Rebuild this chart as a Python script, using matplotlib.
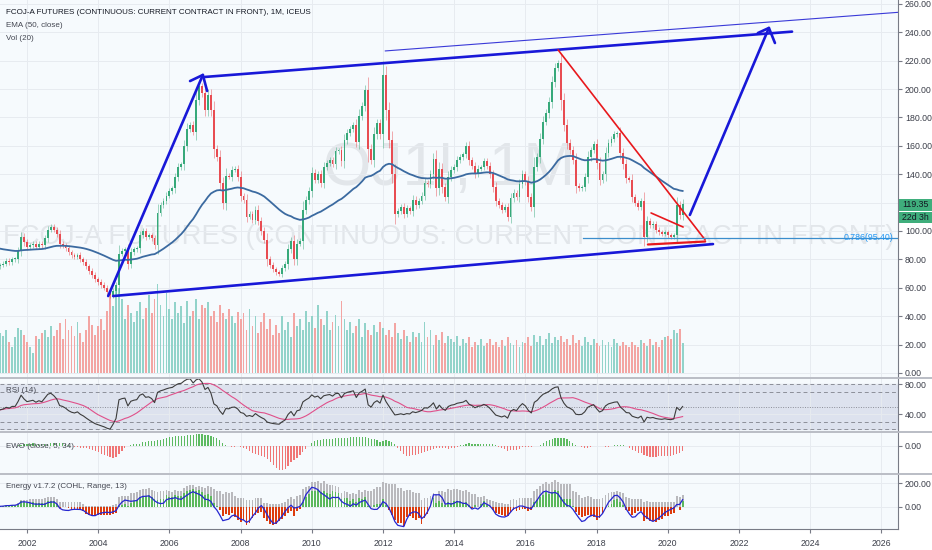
import numpy as np
import pandas as pd
import matplotlib
matplotlib.use('Agg')
import matplotlib.pyplot as plt
from matplotlib import font_manager
from matplotlib.patches import Rectangle

# pick a narrow face if it is there, the TradingView text is condensed
_names = {f.name for f in font_manager.fontManager.ttflist}
FONT = 'Liberation Sans Narrow' if 'Liberation Sans Narrow' in _names else 'Liberation Sans'
plt.rcParams['font.family'] = [FONT, 'DejaVu Sans']

# ---- data: monthly closes, Apr 2001 .. Jun 2020 ----
first_open = 75
c2001 = [76, 77, 79, 78, 80, 80, 86, 96, 92]
c2002 = [89, 90, 91, 89, 91, 90, 95, 101, 103, 101, 98, 91]
c2003 = [90, 88, 85, 83, 82, 83, 80, 78, 75, 72, 69, 66]
c2004 = [64, 62, 60, 57, 55, 58, 62, 84, 86, 87, 77, 85]
c2005 = [87, 88, 97, 100, 96, 97, 95, 90, 113, 118, 121, 125]
c2006 = [128, 130, 138, 145, 147, 160, 172, 175, 170, 192, 202, 197]
c2007 = [185, 196, 185, 158, 152, 134, 120, 139, 138, 143, 144, 138]
c2008 = [125, 122, 110, 112, 108, 115, 107, 100, 94, 80, 76, 73]
c2009 = [71, 70, 74, 77, 87, 93, 80, 91, 93, 115, 122, 128]
c2010 = [141, 136, 140, 134, 145, 148, 150, 147, 156, 157, 149, 164]
c2011 = [169, 172, 175, 163, 181, 188, 199, 158, 150, 168, 176, 168]
c2012 = [210, 185, 164, 140, 112, 114, 117, 112, 116, 114, 122, 118]
c2013 = [121, 125, 134, 133, 140, 151, 130, 144, 131, 124, 138, 143]
c2014 = [145, 150, 152, 154, 160, 150, 146, 140, 144, 145, 149, 146]
c2015 = [140, 131, 121, 118, 115, 117, 110, 123, 127, 124, 133, 140]
c2016 = [135, 124, 117, 145, 152, 165, 177, 183, 191, 205, 215, 218]
c2017 = [192, 175, 162, 157, 150, 132, 130, 131, 138, 152, 157, 161]
c2018 = [148, 136, 140, 155, 162, 165, 168, 169, 155, 147, 137, 136]
c2019 = [124, 120, 117, 121, 96, 107, 104, 105, 101, 99, 98, 99]
c2020 = [97, 96, 97, 118, 111, 119.35]

# volume (relative, drawn on the price scale like the overlay)
v2001 = [28, 26, 30, 22, 18, 25, 32, 30, 27]
v2002 = [22, 18, 14, 26, 24, 28, 30, 25, 33, 26, 30, 35]
v2003 = [24, 38, 30, 33, 26, 36, 28, 22, 30, 40, 34, 27]
v2004 = [33, 38, 30, 44, 55, 47, 58, 60, 52, 38, 48, 42]
v2005 = [36, 44, 50, 38, 46, 55, 42, 52, 63, 48, 40, 56]
v2006 = [45, 38, 50, 42, 47, 35, 51, 40, 44, 52, 38, 48]
v2007 = [46, 50, 40, 44, 36, 48, 42, 38, 45, 40, 35, 43]
v2008 = [38, 42, 30, 45, 33, 40, 28, 36, 42, 31, 38, 27]
v2009 = [34, 28, 40, 30, 36, 25, 42, 33, 38, 30, 44, 36]
v2010 = [40, 32, 48, 38, 34, 44, 30, 36, 41, 33, 51, 38]
v2011 = [30, 36, 28, 33, 38, 25, 35, 30, 27, 34, 29, 36]
v2012 = [32, 27, 30, 25, 35, 28, 24, 30, 26, 22, 29, 25]
v2013 = [28, 22, 36, 25, 30, 20, 27, 23, 29, 21, 26, 24]
v2014 = [22, 26, 19, 24, 21, 25, 18, 22, 20, 24, 19, 21]
v2015 = [24, 20, 22, 18, 23, 19, 25, 21, 20, 23, 18, 22]
v2016 = [21, 25, 19, 27, 22, 26, 20, 24, 28, 21, 25, 23]
v2017 = [26, 22, 24, 20, 27, 21, 23, 19, 25, 22, 20, 24]
v2018 = [21, 19, 23, 20, 22, 18, 24, 21, 19, 22, 20, 18]
v2019 = [22, 20, 18, 23, 21, 19, 24, 20, 22, 18, 23, 25]
v2020 = [26, 24, 30, 28, 31, 21]

closes = np.array(c2001 + c2002 + c2003 + c2004 + c2005 + c2006 + c2007 + c2008 + c2009 + c2010
                  + c2011 + c2012 + c2013 + c2014 + c2015 + c2016 + c2017 + c2018 + c2019 + c2020, float)
volume = np.array(v2001 + v2002 + v2003 + v2004 + v2005 + v2006 + v2007 + v2008 + v2009 + v2010
                  + v2011 + v2012 + v2013 + v2014 + v2015 + v2016 + v2017 + v2018 + v2019 + v2020, float)
start_year, start_month = 2001, 4
ema_seed = 88  # EMA value carried in from the history before the window

# hand drawn lines (date, price)
arrow_up1 = [(2004.28, 54.2), (2006.94, 209.9)]
arrow_up1_head = [(2006.58, 205.6), (2006.94, 209.9), (2007.06, 198.6)]
channel_top = [(2007.0, 208.5), (2023.49, 240.4)]
channel_top_thin = [(2012.06, 226.8), (2026.47, 254.0)]
channel_bottom = [(2004.42, 54.2), (2021.27, 90.8)]
red_down = [(2016.92, 227.5), (2021.05, 93.7)]
red_wedge = [(2019.53, 112.7), (2020.43, 102.8)]
red_base = [(2019.44, 90.5), (2021.05, 92.6)]
arrow_up2 = [(2020.62, 111.3), (2022.84, 243.0)]
arrow_up2_head = [(2022.53, 239.4), (2022.84, 243.0), (2023.01, 232.4)]
fib_level = 95.40
fib_start = 2017.62

n = len(closes)
t = np.array([start_year + (start_month - 1 + i) / 12 for i in range(n)])
opens = np.concatenate([[first_open], closes[:-1]])
body = np.abs(closes - opens)
highs = np.maximum(opens, closes) + 1.5 + 0.2 * body
lows = np.minimum(opens, closes) - 1.5 - 0.2 * body
up = closes >= opens

# indicators
ema = []
e = ema_seed
for c in closes:
    e = e + 2 / 51 * (c - e)
    ema.append(e)
ema = np.array(ema)

chg = closes - opens
ag, al = 1.8, 2.2
rsi = []
for d in chg:
    ag = (ag * 13 + max(d, 0)) / 14
    al = (al * 13 + max(-d, 0)) / 14
    rsi.append(100 - 100 / (1 + ag / al))
rsi = pd.Series(rsi)
rsi_ma = rsi.rolling(14, min_periods=1).mean()

cs = pd.Series(closes)
sma5 = cs.rolling(5, min_periods=1).mean()
sma34 = cs.rolling(34, min_periods=1).mean()
ewo = ((sma5 - sma34) / sma5 * 100).values

# energy: up / down moves over 13 bars, damped by price level
root = np.sqrt(closes)
ups = pd.Series(np.maximum(chg, 0) / root).rolling(13, min_periods=1).sum()
dns = pd.Series(np.maximum(-chg, 0) / root).rolling(13, min_periods=1).sum()
k = 225 / ups.max()
grey = (ups * k).values
net = (ups - dns) * k * 0.85
blue = (net + (net - net.shift(4).fillna(0))).ewm(span=3, adjust=False).mean()
blue = (blue * 170 / abs(blue.min())).values
net = net.values

# ---- layout (pixel based) ----
W, H = 932, 550
fig = plt.figure(figsize=(W / 100, H / 100), dpi=100, facecolor='white')
renderer = fig.canvas.get_renderer()

def px_axes(top, bottom, right=898):
    return fig.add_axes([0, 1 - bottom / H, right / W, (bottom - top) / H])

ax = px_axes(0, 377)
ax_rsi = px_axes(379, 431)
ax_ewo = px_axes(433, 473)
ax_en = px_axes(475, 529)

BG = '#f6fafd'
GRID = '#e7ebf0'
AXC = '#787b86'
TXT = '#3c3f4a'
UPC = '#37a97a'
DNC = '#e84c52'
BLUE = '#1818d8'
RED = '#e8181c'

def fit_size(s, width_px):
    tt = fig.text(0, 0, s, fontsize=10)
    w = tt.get_window_extent(renderer).width
    tt.remove()
    return 10 * width_px / w

TICK_FS = fit_size('260.00', 27)
LEG_FS = fit_size('FCOJ-A FUTURES (CONTINUOUS: CURRENT CONTRACT IN FRONT), 1M, ICEUS', 305)

x_lo = 2002 - 27 / 35.6
x_hi = 2002 + (898 - 27) / 35.6
years = list(range(2002, 2027, 2))

for a in (ax, ax_rsi, ax_ewo, ax_en):
    a.set_facecolor(BG)
    a.set_xlim(x_lo, x_hi)
    a.set_xticks(years)
    a.grid(True, color=GRID, lw=0.7)
    a.set_axisbelow(True)
    a.yaxis.tick_right()
    a.tick_params(axis='y', length=3, color=AXC, labelcolor=TXT, labelsize=TICK_FS, pad=2)
    a.tick_params(axis='x', length=0, labelbottom=False)
    for s in ['top', 'left', 'bottom']:
        a.spines[s].set_visible(False)
    a.spines['right'].set_color(AXC)
    a.spines['right'].set_linewidth(0.8)

# ---- main price panel ----
ax.set_ylim(-2.82, 262.68)
ax.set_yticks(range(0, 261, 20))
# the 120 label sits under the last price tag
ax.set_yticklabels(['' if v == 120 else f'{v:.2f}' for v in range(0, 261, 20)])

# watermark
wm1_fs = fit_size('OJ1!, 1M', 250)
wm2_fs = fit_size('FCOJ-A FUTURES (CONTINUOUS: CURRENT CONTRACT IN FRONT)', 895)
ax.text(0.5, 1 - 170 / 377, 'OJ1!, 1M', transform=ax.transAxes, ha='center', va='center',
        fontsize=wm1_fs, color='#e2e6ea', zorder=0.5)
ax.text(0.5, 1 - 237 / 377, 'FCOJ-A FUTURES (CONTINUOUS: CURRENT CONTRACT IN FRONT)', transform=ax.transAxes,
        ha='center', va='center', fontsize=wm2_fs, color='#e2e6ea', zorder=0.5)

w = 0.62 / 12
vol_col = np.where(up, '#92d3ca', '#f3a5a3')
ax.bar(t, volume, width=w, color=vol_col, zorder=1)
ax.vlines(t, lows, highs, colors=np.where(up, UPC, DNC), lw=0.6, alpha=0.55, zorder=2)
ax.bar(t, np.maximum(body, 0.7), bottom=np.minimum(opens, closes), width=w,
       color=np.where(up, UPC, DNC), zorder=3)
ax.plot(t, ema, color='#3b6aa0', lw=1.3, zorder=4)

def seg(pts, **kw):
    xs, ys = zip(*pts)
    ax.plot(xs, ys, solid_capstyle='round', zorder=5, **kw)

seg(arrow_up1, color=BLUE, lw=1.9)
seg(arrow_up1_head, color=BLUE, lw=1.9)
seg(channel_top, color=BLUE, lw=1.9)
seg(channel_top_thin, color='#3a3ad8', lw=0.8)
seg(channel_bottom, color=BLUE, lw=1.9)
seg(arrow_up2, color=BLUE, lw=1.9)
seg(arrow_up2_head, color=BLUE, lw=1.9)
seg(red_down, color=RED, lw=1.2)
seg(red_wedge, color=RED, lw=1.2)
seg(red_base, color=RED, lw=1.6)
ax.plot([fib_start, x_hi], [fib_level, fib_level], color='#3b8dcc', lw=0.9, zorder=5)
ax.text(x_hi - 5 / 35.6, fib_level, f'0.786({fib_level:.2f})', ha='right', va='center',
        fontsize=TICK_FS, color='#2196f3', zorder=6)

# last price tags on the axis
for y0, y1, s in [(198.5, 210.5, f'{closes[-1]:.2f}'), (211.5, 222.5, '22d 3h')]:
    fig.patches.append(Rectangle((899 / W, 1 - y1 / H), 33 / W, (y1 - y0) / H,
                                 transform=fig.transFigure, facecolor='#3fae7c', edgecolor='none'))
    fig.text(902 / W, 1 - (y0 + y1) / 2 / H, s, ha='left', va='center', fontsize=TICK_FS, color='#131722')

# legend lines
fig.text(6 / W, 1 - 13 / H, 'FCOJ-A FUTURES (CONTINUOUS: CURRENT CONTRACT IN FRONT), 1M, ICEUS',
         fontsize=LEG_FS, color='#131722', va='center')
fig.text(6 / W, 1 - 25.5 / H, 'EMA (50, close)', fontsize=LEG_FS, color='#434651', va='center')
fig.text(6 / W, 1 - 38 / H, 'Vol (20)', fontsize=LEG_FS, color='#434651', va='center')

# ---- RSI ----
ax_rsi.set_ylim(17.73, 87.07)
ax_rsi.set_yticks([40, 80])
ax_rsi.set_yticklabels(['40.00', '80.00'])
ax_rsi.axhspan(20, 80, color='#dde2ee', zorder=0.5)
for lv in (80, 70, 30, 20):
    ax_rsi.axhline(lv, color='#8c8f99', lw=0.7, ls=(0, (4, 3)), zorder=1)
ax_rsi.axhline(50, color='#8c8f99', lw=0.7, ls=(0, (1, 1.5)), zorder=1)
ax_rsi.plot(t, rsi_ma, color='#e0508a', lw=0.8, zorder=2)
ax_rsi.plot(t, rsi, color='#3c3c3c', lw=0.8, zorder=3)
fig.text(6 / W, 1 - 390 / H, 'RSI (14)', fontsize=LEG_FS, color='#434651', va='center')

# ---- EWO ----
sc = -ewo.min() / 24.3
ax_ewo.set_ylim(-27.3 * sc, 12.7 * sc)
ax_ewo.set_yticks([0])
ax_ewo.set_yticklabels(['0.00'])
ax_ewo.bar(t, ewo, width=0.4 / 12, color=np.where(ewo >= 0, '#5dba61', '#f07575'), zorder=2)
fig.text(6 / W, 1 - 446 / H, 'EWO (close, 5, 34)', fontsize=LEG_FS, color='#434651', va='center')

# ---- Energy ----
ax_en.set_ylim(-190.6, 271)
ax_en.set_yticks([0, 200])
ax_en.set_yticklabels(['0.00', '200.00'])
ax_en.bar(t, grey, width=w, color='#b9b9bd', zorder=2)
ax_en.bar(t, net, width=w, color=np.where(net >= 0, '#5cb85c', '#dd3b0c'), zorder=3)
ax_en.plot(t, blue, color='#2626d0', lw=0.9, zorder=4)
fig.text(6 / W, 1 - 487 / H, 'Energy v1.7.2 (COHL, Range, 13)', fontsize=LEG_FS, color='#434651', va='center')
ax_en.spines['bottom'].set_visible(True)
ax_en.spines['bottom'].set_color(AXC)
ax_en.tick_params(axis='x', length=3, color=AXC, labelbottom=True, labelsize=TICK_FS, labelcolor=TXT, pad=4)
ax_en.set_xticklabels([str(y) for y in years])

# panel separators
for yy in (378, 432, 474):
    fig.add_artist(plt.Line2D([0, 1], [1 - yy / H] * 2, transform=fig.transFigure, color='#b4b7c0', lw=1.3))

fig.savefig('out.png', dpi=100, facecolor='white')
